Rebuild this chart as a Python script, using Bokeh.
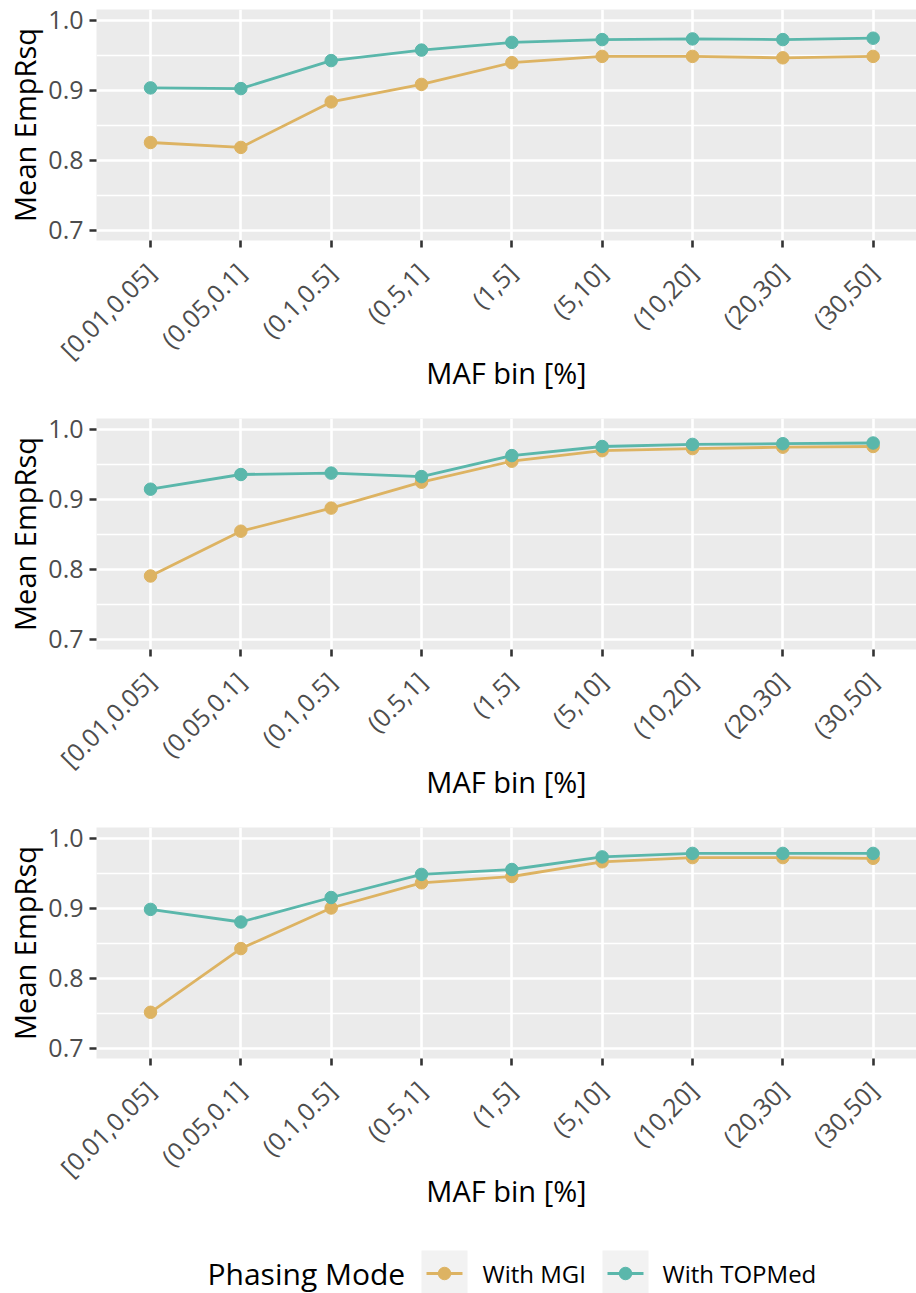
import math

from bokeh.core.properties import value
from bokeh.embed import file_html
from bokeh.layouts import column
from bokeh.models import FixedTicker, NumeralTickFormatter, Range1d
from bokeh.plotting import figure
from bokeh.resources import INLINE

# MAF bins (x categories) and y ticks
maf_bins = ["[0.01,0.05]", "(0.05,0.1]", "(0.1,0.5]", "(0.5,1]", "(1,5]",
            "(5,10]", "(10,20]", "(20,30]", "(30,50]"]
y_ticks = [0.7, 0.8, 0.9, 1.0]
y_minor = [0.75, 0.85, 0.95]

# Mean EmpRsq per bin, one pair of series per panel
mgi_top = [0.825, 0.818, 0.883, 0.908, 0.939, 0.948, 0.948, 0.946, 0.948]
topmed_top = [0.903, 0.902, 0.942, 0.957, 0.968, 0.972, 0.973, 0.972, 0.974]

mgi_mid = [0.790, 0.854, 0.887, 0.924, 0.954, 0.969, 0.972, 0.974, 0.975]
topmed_mid = [0.914, 0.935, 0.937, 0.932, 0.962, 0.975, 0.978, 0.979, 0.980]

mgi_bot = [0.751, 0.842, 0.900, 0.936, 0.945, 0.966, 0.972, 0.972, 0.971]
topmed_bot = [0.898, 0.880, 0.915, 0.948, 0.955, 0.973, 0.978, 0.978, 0.978]

series_names = ["With MGI", "With TOPMed"]
legend_title = "Phasing Mode"
x_title = "MAF bin [%]"
y_title = "Mean EmpRsq"

MGI_COLOR = "#DDB362"
TOPMED_COLOR = "#5AB7AB"
FONT = "Open Sans"

positions = list(range(1, len(maf_bins) + 1))
X_LO, X_HI = 0.402, 9.48
Y_LO, Y_HI = 0.685, 1.015


def make_panel(mgi, topmed):
    p = figure(
        frame_width=820, frame_height=231,
        min_border_left=96, min_border_right=0,
        min_border_top=9, min_border_bottom=169,
        x_range=Range1d(X_LO, X_HI), y_range=Range1d(Y_LO, Y_HI),
        output_backend="svg", toolbar_location=None,
        background_fill_color="#EBEBEB", border_fill_color="white",
        outline_line_color=None,
    )

    # grid
    p.xgrid.grid_line_color = "white"
    p.xgrid.grid_line_width = 2.6
    p.ygrid.grid_line_color = "white"
    p.ygrid.grid_line_width = 2.6
    p.ygrid.minor_grid_line_color = "white"
    p.ygrid.minor_grid_line_width = 1.3

    # axes
    p.xaxis.ticker = FixedTicker(ticks=positions)
    p.xaxis.major_label_overrides = {x: lab for x, lab in zip(positions, maf_bins)}
    p.xaxis.major_label_orientation = math.pi / 4
    p.yaxis.ticker = FixedTicker(ticks=y_ticks, minor_ticks=y_minor)
    p.yaxis.formatter = NumeralTickFormatter(format="0.0")

    for ax in (p.xaxis[0], p.yaxis[0]):
        ax.axis_line_color = None
        ax.major_tick_out = 7
        ax.major_tick_in = 0
        ax.minor_tick_out = 0
        ax.minor_tick_in = 0
        ax.major_tick_line_color = "#333333"
        ax.major_tick_line_width = 2.6
        ax.major_label_text_font = FONT
        ax.major_label_text_font_size = "25px"
        ax.major_label_text_color = "#4D4D4D"
        ax.axis_label_text_font = FONT
        ax.axis_label_text_font_size = "29px"
        ax.axis_label_text_font_style = "normal"
        ax.axis_label_text_color = "black"
    p.yaxis.major_label_standoff = 6
    p.xaxis.major_label_standoff = 20

    p.yaxis.axis_label = y_title
    p.yaxis.axis_label_standoff = 1
    p.xaxis.axis_label = x_title
    p.xaxis.axis_label_standoff = -28

    for ys, col in ((mgi, MGI_COLOR), (topmed, TOPMED_COLOR)):
        p.line(positions, ys, line_color=col, line_width=2.8)
        p.scatter(positions, ys, size=12.5, fill_color=col, line_color=col)
    return p


panels = [make_panel(mgi_top, topmed_top),
          make_panel(mgi_mid, topmed_mid),
          make_panel(mgi_bot, topmed_bot)]

# legend strip (x in page pixels from 96 to 916, y downward from the strip top)
leg = figure(frame_width=820, frame_height=66, x_range=Range1d(96, 916), y_range=Range1d(66, 0),
             min_border_left=96, min_border_right=0, min_border_top=0, min_border_bottom=0,
             toolbar_location=None, output_backend="svg",
             x_axis_type=None, y_axis_type=None, outline_line_color=None)
leg.grid.visible = False

key_left = [421, 602]
key_w = 46
key_cx = [l + key_w / 2 for l in key_left]
key_colors = [MGI_COLOR, TOPMED_COLOR]
leg.quad(left=key_left, right=[l + key_w for l in key_left], top=[23, 23], bottom=[70, 70],
         fill_color="#F2F2F2", line_color=None)
leg.segment(x0=[l + 5 for l in key_left], x1=[l + key_w - 5 for l in key_left],
            y0=[46, 46], y1=[46, 46], line_color=key_colors, line_width=2.8)
leg.scatter(key_cx, [46, 46], size=12.5, fill_color=key_colors, line_color=key_colors)
leg.text(x=[207], y=[46], text=[legend_title], text_font=value(FONT),
         text_font_size="30px", text_baseline="middle", text_color="black")
leg.text(x=[482, 662], y=[46, 46], text=series_names, text_font=value(FONT),
         text_font_size="24px", text_baseline="middle", text_color="black")

layout = column(*panels, leg, spacing=0)

with open("out.html", "w") as f:
    f.write(file_html(layout, INLINE))
